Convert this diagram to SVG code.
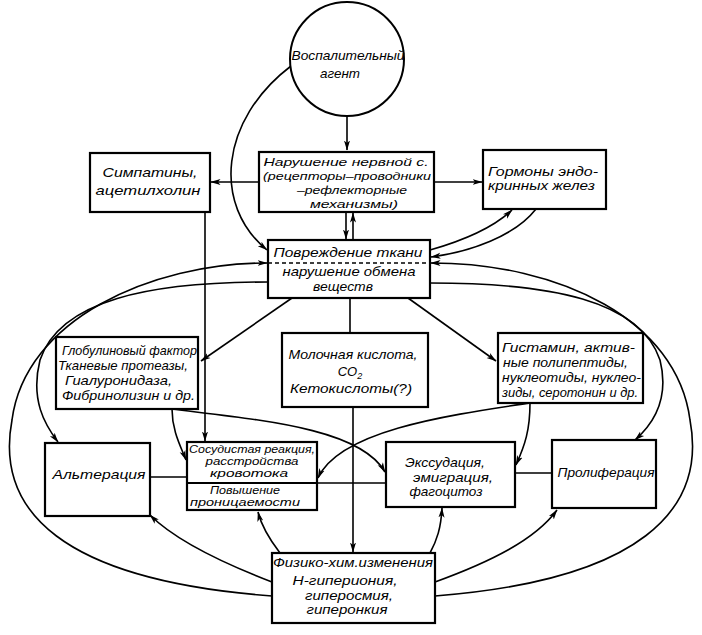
<svg xmlns="http://www.w3.org/2000/svg" width="702" height="635" viewBox="0 0 702 635">
<style>
.t{font-family:"Liberation Sans","DejaVu Sans",sans-serif;font-style:italic;font-size:13px;fill:#000;text-anchor:middle}
.s{text-anchor:start}
.v{font-size:10.5px}
.n{font-size:11.5px}
.box{fill:#fff;stroke:#000;stroke-width:2.2}
.c{fill:none;stroke:#000;stroke-width:1.6}
.ar{marker-end:url(#a)}
</style>
<defs>
<marker id="a" viewBox="0 0 10 10" refX="9.5" refY="5" markerWidth="10" markerHeight="10" orient="auto" markerUnits="userSpaceOnUse">
<path d="M0,2 L10,5 L0,8 L2.5,5 z" fill="#000"/>
</marker>
</defs>
<rect width="702" height="635" fill="#fff"/>
<g id="connectors">
<path class="c ar" d="M347,116 V150"/>
<path class="c ar" d="M259,182 H211"/>
<path class="c ar" d="M434,182 H482"/>
<path class="c ar" d="M346,212 V239"/>
<path class="c ar" d="M353,240 V213"/>
<path class="c ar" d="M291,66 C220,120 212,205 267,250"/>
<path class="c ar" d="M430,250 C465,240 495,226 512,210"/>
<path class="c ar" d="M536,209 C515,236 470,252 431,257"/>
<path class="c ar" d="M205,212 V441"/>
<path class="c ar" d="M292,298 L201,361"/>
<path class="c" d="M350,298 V333"/>
<path class="c ar" d="M408,298 L496,361"/>
<path class="c ar" d="M353,407 V552"/>
<path class="c ar" d="M172,409 C172,430 180,445 186,460"/>
<path class="c ar" d="M172,409 C260,420 360,428 385,472"/>
<path class="c ar" d="M530,403 C530,430 525,445 516,465"/>
<path class="c ar" d="M530,403 C450,415 340,430 318,478"/>
<path class="c" d="M150,477 H187 M317,483 H386 M515,473 H552"/>
<path class="c ar" d="M280,553 C270,540 262,528 258,512"/>
<path class="c ar" d="M430,553 C437,540 441,528 442,508"/>
<path class="c ar" d="M272,582 C220,562 175,540 150,515"/>
<path class="c ar" d="M435,582 C490,562 535,540 557,510"/>
<path class="c ar" d="M272,596 C60,580 -5,510 12,420 C25,320 150,263 267,263"/>
<path class="c ar" d="M268,282 C150,282 60,300 40,360 C30,400 45,425 58,442"/>
<path class="c ar" d="M435,596 C640,580 707,510 690,420 C677,320 560,263 431,263"/>
<path class="c ar" d="M430,283 C550,283 640,300 660,360 C670,400 652,425 635,440"/>
</g>
<g id="agent">
<circle cx="347" cy="59" r="57" fill="#fff" stroke="#000" stroke-width="2"/>
<text class="t" x="348" y="60" textLength="113" lengthAdjust="spacingAndGlyphs">Воспалительный</text>
<text class="t" x="340" y="78" textLength="40" lengthAdjust="spacingAndGlyphs">агент</text>
</g>
<g id="nervous">
<rect class="box" x="259" y="152" width="175" height="60"/>
<text class="t n" x="346" y="166" textLength="165" lengthAdjust="spacingAndGlyphs">Нарушение нервной с.</text>
<text class="t n" x="347" y="180" textLength="168" lengthAdjust="spacingAndGlyphs">(рецепторы–проводники</text>
<text class="t n" x="352" y="194" textLength="110" lengthAdjust="spacingAndGlyphs">–рефлекторные</text>
<text class="t n" x="354" y="208" textLength="88" lengthAdjust="spacingAndGlyphs">механизмы)</text>
</g>
<g id="sympathins">
<rect class="box" x="90" y="153" width="120" height="59"/>
<text class="t" x="150" y="177" textLength="95" lengthAdjust="spacingAndGlyphs">Симпатины,</text>
<text class="t" x="148" y="195" textLength="105" lengthAdjust="spacingAndGlyphs">ацетилхолин</text>
</g>
<g id="hormones">
<rect class="box" x="483" y="150" width="123" height="59"/>
<text class="t s" x="488" y="176" textLength="110" lengthAdjust="spacingAndGlyphs">Гормоны эндо-</text>
<text class="t s" x="488" y="190" textLength="107" lengthAdjust="spacingAndGlyphs">кринныx желез</text>
</g>
<g id="damage">
<rect class="box" x="268" y="240" width="162" height="58"/>
<line x1="268" y1="263" x2="430" y2="263" stroke="#000" stroke-width="1.3" stroke-dasharray="4,3"/>
<text class="t" x="348" y="257" textLength="149" lengthAdjust="spacingAndGlyphs">Повреждение ткани</text>
<text class="t" x="349" y="276" textLength="133" lengthAdjust="spacingAndGlyphs">нарушение обмена</text>
<text class="t" x="343" y="291" textLength="60" lengthAdjust="spacingAndGlyphs">веществ</text>
</g>
<g id="globulin">
<rect class="box" x="56" y="337" width="142" height="72"/>
<text class="t s" x="62" y="355" textLength="135" lengthAdjust="spacingAndGlyphs">Глобулиновый фактор</text>
<text class="t s" x="58" y="370" textLength="130" lengthAdjust="spacingAndGlyphs">Тканевые протеазы,</text>
<text class="t s" x="65" y="385" textLength="107" lengthAdjust="spacingAndGlyphs">Гиалуронидаза,</text>
<text class="t s" x="62" y="400" textLength="133" lengthAdjust="spacingAndGlyphs">Фибринолизин и др.</text>
</g>
<g id="lactic">
<rect class="box" x="282" y="333" width="146" height="74"/>
<text class="t" x="353" y="359" textLength="129" lengthAdjust="spacingAndGlyphs">Молочная кислота,</text>
<text class="t" x="350" y="376">CO<tspan font-size="9" dy="3">2</tspan></text>
<text class="t" x="351" y="393" textLength="122" lengthAdjust="spacingAndGlyphs">Кетокислоты(?)</text>
</g>
<g id="histamine">
<rect class="box" x="498" y="333" width="145" height="70"/>
<text class="t s" x="502" y="352" textLength="133" lengthAdjust="spacingAndGlyphs">Гистамин, актив-</text>
<text class="t s" x="503" y="367" textLength="125" lengthAdjust="spacingAndGlyphs">ные полипептиды,</text>
<text class="t s" x="502" y="382" textLength="139" lengthAdjust="spacingAndGlyphs">нуклеотиды, нуклео-</text>
<text class="t s" x="502" y="397" textLength="136" lengthAdjust="spacingAndGlyphs">зиды, серотонин и др.</text>
</g>
<g id="alteration">
<rect class="box" x="45" y="443" width="105" height="73"/>
<text class="t" x="99" y="479" textLength="93" lengthAdjust="spacingAndGlyphs">Альтерация</text>
</g>
<g id="vascular">
<rect class="box" x="187" y="442" width="130" height="68"/>
<line x1="187" y1="483" x2="317" y2="483" stroke="#000" stroke-width="2"/>
<text class="t v" x="252" y="453" textLength="126" lengthAdjust="spacingAndGlyphs">Сосудистая реакция,</text>
<text class="t v" x="252" y="465" textLength="93" lengthAdjust="spacingAndGlyphs">расстройства</text>
<text class="t v" x="249" y="477" textLength="78" lengthAdjust="spacingAndGlyphs">кровотока</text>
<text class="t v" x="245" y="494" textLength="70" lengthAdjust="spacingAndGlyphs">Повышение</text>
<text class="t v" x="245" y="506" textLength="110" lengthAdjust="spacingAndGlyphs">проницаемости</text>
</g>
<g id="exudation">
<rect class="box" x="386" y="442" width="129" height="65"/>
<text class="t" x="445" y="467" textLength="80" lengthAdjust="spacingAndGlyphs">Экссудация,</text>
<text class="t" x="453" y="482" textLength="80" lengthAdjust="spacingAndGlyphs">эмиграция,</text>
<text class="t" x="446" y="496" textLength="73" lengthAdjust="spacingAndGlyphs">фагоцитоз</text>
</g>
<g id="proliferation">
<rect class="box" x="552" y="440" width="104" height="68"/>
<text class="t" x="606" y="477" textLength="97" lengthAdjust="spacingAndGlyphs">Пролиферация</text>
</g>
<g id="physchem">
<rect class="box" x="272" y="553" width="163" height="70"/>
<text class="t" x="353" y="567" textLength="160" lengthAdjust="spacingAndGlyphs">Физико-хим.изменения</text>
<text class="t" x="345" y="585" textLength="105" lengthAdjust="spacingAndGlyphs">Н-гипериония,</text>
<text class="t" x="349" y="600" textLength="88" lengthAdjust="spacingAndGlyphs">гиперосмия,</text>
<text class="t" x="347" y="614" textLength="81" lengthAdjust="spacingAndGlyphs">гиперонкия</text>
</g>
</svg>
